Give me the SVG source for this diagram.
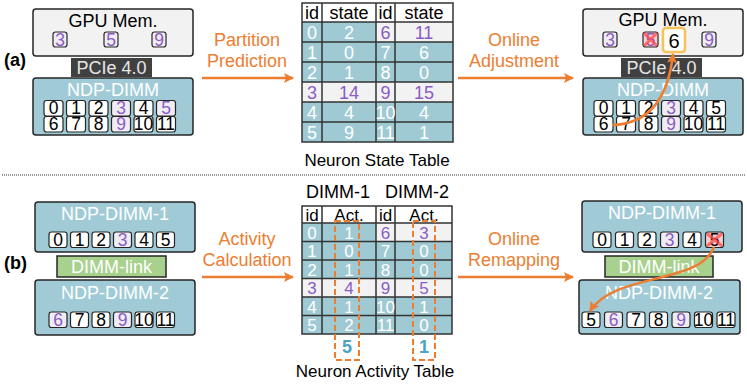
<svg xmlns="http://www.w3.org/2000/svg" width="747" height="385" viewBox="0 0 747 385">
<defs>
<style>
.t{font-family:"Liberation Sans",Arial,sans-serif}
.box{fill:#a0cbd6;stroke:#262626;stroke-width:1.5}
.gbox{fill:#f2f2f2;stroke:#262626;stroke-width:1.5}
.cell{fill:#fff;stroke:#262626;stroke-width:1.2}
.pcell{fill:#efedf3;stroke:#262626;stroke-width:1.2}
.xcell{fill:#f7cfd0;stroke:#262626;stroke-width:1.2}
.n{font-size:17.5px;text-anchor:middle;fill:#000}
.p{fill:#8b5cc4}
.w{fill:#fff}
.lbl{font-size:18px;text-anchor:middle}
.sm{font-size:17px}
.or{fill:#ed7d31}
.arr{stroke:#ed7d31;stroke-width:2.5;fill:none;marker-end:url(#ah)}
.tb{fill:#9fc9d3}
.tg{fill:#f2f2f2}
.th{fill:#fff}
.grid{stroke:#333;stroke-width:1.5;fill:none}
.xm{stroke:#ff4b4b;stroke-width:3;opacity:0.75}
.dash{fill:none;stroke:#ed7d31;stroke-width:2;stroke-dasharray:6,3}
</style>
<marker id="ah" viewBox="0 0 10 10" refX="9" refY="5" markerWidth="11" markerHeight="10" markerUnits="userSpaceOnUse" orient="auto">
<path d="M0,0 L10,5 L0,10 L2,5 Z" fill="#ed7d31"/>
</marker>
</defs>
<rect width="747" height="385" fill="#fff"/>

<text class="t" x="4" y="66" font-size="18" font-weight="bold">(a)</text>
<text class="t" x="4" y="269" font-size="18" font-weight="bold">(b)</text>

<!-- Top-left -->
<g id="gpu-mem-a">
<rect class="gbox" x="33" y="9" width="160" height="47" rx="3"/>
<text class="t lbl" x="113" y="27">GPU Mem.</text>
<rect class="pcell" x="53" y="32" width="14" height="15" rx="2.5"/><text class="t n p" x="60" y="45.5">3</text>
<rect class="pcell" x="104" y="32" width="14" height="15" rx="2.5"/><text class="t n p" x="111" y="45.5">5</text>
<rect class="pcell" x="152" y="32" width="14" height="15" rx="2.5"/><text class="t n p" x="159" y="45.5">9</text>
</g>
<g id="pcie-a">
<rect x="71" y="58" width="81" height="19" fill="#404040"/>
<text class="t lbl" x="111.5" y="74" fill="#e6e6e6">PCIe 4.0</text>
</g>
<g id="ndp-dimm-a">
<rect class="box" x="33" y="78" width="160" height="57" rx="3"/>
<text class="t lbl w" x="113" y="96">NDP-DIMM</text>
<rect class="cell" x="44" y="100.5" width="19" height="15.5" rx="2.5"/><text class="t n" x="53.5" y="114">0</text>
<rect class="cell" x="66.5" y="100.5" width="19" height="15.5" rx="2.5"/><text class="t n" x="76" y="114">1</text>
<rect class="cell" x="89" y="100.5" width="19" height="15.5" rx="2.5"/><text class="t n" x="98.5" y="114">2</text>
<rect class="pcell" x="111.5" y="100.5" width="19" height="15.5" rx="2.5"/><text class="t n p" x="121" y="114">3</text>
<rect class="cell" x="134" y="100.5" width="19" height="15.5" rx="2.5"/><text class="t n" x="143.5" y="114">4</text>
<rect class="pcell" x="156.5" y="100.5" width="19" height="15.5" rx="2.5"/><text class="t n p" x="166" y="114">5</text>
<rect class="cell" x="44" y="116.5" width="19" height="15.5" rx="2.5"/><text class="t n" x="53.5" y="130">6</text>
<rect class="cell" x="66.5" y="116.5" width="19" height="15.5" rx="2.5"/><text class="t n" x="76" y="130">7</text>
<rect class="cell" x="89" y="116.5" width="19" height="15.5" rx="2.5"/><text class="t n" x="98.5" y="130">8</text>
<rect class="pcell" x="111.5" y="116.5" width="19" height="15.5" rx="2.5"/><text class="t n p" x="121" y="130">9</text>
<rect class="cell" x="134" y="116.5" width="19" height="15.5" rx="2.5"/><text class="t n" x="143.5" y="130">10</text>
<rect class="cell" x="156.5" y="116.5" width="19" height="15.5" rx="2.5"/><text class="t n" x="166" y="130">11</text>
</g>

<!-- Neuron State Table -->
<g id="state-table">
<rect class="th" x="302" y="3" width="151" height="19"/>
<rect class="tb" x="302" y="22" width="74" height="20"/><rect class="tg" x="376" y="22" width="77" height="20"/>
<rect class="tb" x="302" y="42" width="151" height="40"/>
<rect class="tg" x="302" y="82" width="151" height="20"/>
<rect class="tb" x="302" y="102" width="151" height="40"/>
<path class="grid" d="M302,3H453V142H302Z M302,22H453 M302,42H453 M302,62H453 M302,82H453 M302,102H453 M302,122H453 M322,3V142 M376,3V142 M395,3V142"/>
<g class="t lbl">
<text x="312" y="19">id</text><text x="349" y="19">state</text><text x="385.5" y="19">id</text><text x="424" y="19">state</text>
<text class="w" x="312" y="38.5">0</text><text class="w" x="349" y="38.5">2</text><text class="p" x="385.5" y="38.5">6</text><text class="p" x="424" y="38.5">11</text>
<text class="w" x="312" y="58.5">1</text><text class="w" x="349" y="58.5">0</text><text class="w" x="385.5" y="58.5">7</text><text class="w" x="424" y="58.5">6</text>
<text class="w" x="312" y="78.5">2</text><text class="w" x="349" y="78.5">1</text><text class="w" x="385.5" y="78.5">8</text><text class="w" x="424" y="78.5">0</text>
<text class="p" x="312" y="98.5">3</text><text class="p" x="349" y="98.5">14</text><text class="p" x="385.5" y="98.5">9</text><text class="p" x="424" y="98.5">15</text>
<text class="w" x="312" y="118.5">4</text><text class="w" x="349" y="118.5">4</text><text class="w" x="385.5" y="118.5">10</text><text class="w" x="424" y="118.5">4</text>
<text class="w" x="312" y="138.5">5</text><text class="w" x="349" y="138.5">9</text><text class="w" x="385.5" y="138.5">11</text><text class="w" x="424" y="138.5">1</text>
</g>
<text class="t" x="377" y="166" font-size="17" text-anchor="middle">Neuron State Table</text>
</g>

<!-- Top-right -->
<g id="gpu-mem-a2">
<rect class="gbox" x="583" y="9" width="160" height="47" rx="3"/>
<text class="t lbl" x="663" y="26">GPU Mem.</text>
<rect class="pcell" x="603" y="32" width="14" height="15" rx="2.5"/><text class="t n p" x="610" y="45.5">3</text>
<rect class="xcell" x="643" y="32" width="15" height="15" rx="2.5"/><text class="t n p" x="650.5" y="45.5">5</text>
<path class="xm" d="M644,33L657,46M657,33L644,46"/>
<rect x="663" y="28" width="22" height="24" rx="3" fill="#fff" stroke="#f7c25a" stroke-width="2.5"/>
<text class="t" x="674" y="47.5" font-size="20" text-anchor="middle">6</text>
<rect class="pcell" x="702" y="32" width="14" height="15" rx="2.5"/><text class="t n p" x="709" y="45.5">9</text>
</g>
<g id="pcie-a2">
<rect x="621" y="58" width="81" height="19" fill="#404040"/>
<text class="t lbl" x="661.5" y="74" fill="#e6e6e6">PCIe 4.0</text>
</g>
<g id="ndp-dimm-a2">
<rect class="box" x="583" y="78" width="160" height="57" rx="3"/>
<text class="t lbl w" x="663" y="96">NDP-DIMM</text>
<rect class="cell" x="594" y="100.5" width="19" height="15.5" rx="2.5"/><text class="t n" x="603.5" y="114">0</text>
<rect class="cell" x="616.5" y="100.5" width="19" height="15.5" rx="2.5"/><text class="t n" x="626" y="114">1</text>
<rect class="cell" x="639" y="100.5" width="19" height="15.5" rx="2.5"/><text class="t n" x="648.5" y="114">2</text>
<rect class="pcell" x="661.5" y="100.5" width="19" height="15.5" rx="2.5"/><text class="t n p" x="671" y="114">3</text>
<rect class="cell" x="684" y="100.5" width="19" height="15.5" rx="2.5"/><text class="t n" x="693.5" y="114">4</text>
<rect class="cell" x="706.5" y="100.5" width="19" height="15.5" rx="2.5"/><text class="t n" x="716" y="114">5</text>
<rect class="cell" x="594" y="116.5" width="19" height="15.5" rx="2.5"/><text class="t n" x="603.5" y="130">6</text>
<rect class="cell" x="616.5" y="116.5" width="19" height="15.5" rx="2.5"/><text class="t n" x="626" y="130">7</text>
<rect class="cell" x="639" y="116.5" width="19" height="15.5" rx="2.5"/><text class="t n" x="648.5" y="130">8</text>
<rect class="pcell" x="661.5" y="116.5" width="19" height="15.5" rx="2.5"/><text class="t n p" x="671" y="130">9</text>
<rect class="cell" x="684" y="116.5" width="19" height="15.5" rx="2.5"/><text class="t n" x="693.5" y="130">10</text>
<rect class="cell" x="706.5" y="116.5" width="19" height="15.5" rx="2.5"/><text class="t n" x="716" y="130">11</text>
</g>

<line x1="2" y1="175" x2="745" y2="175" stroke="#333" stroke-width="1" stroke-dasharray="1,1"/>

<!-- Bottom-left -->
<g id="ndp-dimm-1-b">
<rect class="box" x="35" y="202" width="160" height="50" rx="3"/>
<text class="t lbl w" x="115" y="220">NDP-DIMM-1</text>
<rect class="cell" x="49" y="232" width="18" height="15.5" rx="2.5"/><text class="t n" x="58" y="245.5">0</text>
<rect class="cell" x="70.5" y="232" width="18" height="15.5" rx="2.5"/><text class="t n" x="79.5" y="245.5">1</text>
<rect class="cell" x="92" y="232" width="18" height="15.5" rx="2.5"/><text class="t n" x="101" y="245.5">2</text>
<rect class="pcell" x="113.5" y="232" width="18" height="15.5" rx="2.5"/><text class="t n p" x="122.5" y="245.5">3</text>
<rect class="cell" x="135" y="232" width="18" height="15.5" rx="2.5"/><text class="t n" x="144" y="245.5">4</text>
<rect class="cell" x="156.5" y="232" width="18" height="15.5" rx="2.5"/><text class="t n" x="165.5" y="245.5">5</text>
</g>
<g id="dimm-link-b">
<rect x="57" y="256" width="109" height="21" fill="#a9d18e" stroke="#262626" stroke-width="1.5"/>
<text class="t lbl w" x="111.5" y="273">DIMM-link</text>
</g>
<g id="ndp-dimm-2-b">
<rect class="box" x="35" y="280" width="160" height="55" rx="3"/>
<text class="t lbl w" x="115" y="299">NDP-DIMM-2</text>
<rect class="pcell" x="49" y="312" width="18" height="15.5" rx="2.5"/><text class="t n p" x="58" y="325.5">6</text>
<rect class="cell" x="70.5" y="312" width="18" height="15.5" rx="2.5"/><text class="t n" x="79.5" y="325.5">7</text>
<rect class="cell" x="92" y="312" width="18" height="15.5" rx="2.5"/><text class="t n" x="101" y="325.5">8</text>
<rect class="pcell" x="113.5" y="312" width="18" height="15.5" rx="2.5"/><text class="t n p" x="122.5" y="325.5">9</text>
<rect class="cell" x="135" y="312" width="18" height="15.5" rx="2.5"/><text class="t n" x="144" y="325.5">10</text>
<rect class="cell" x="156.5" y="312" width="18" height="15.5" rx="2.5"/><text class="t n" x="165.5" y="325.5">11</text>
</g>

<!-- Neuron Activity Table -->
<g id="activity-table">
<text class="t lbl" x="338" y="198">DIMM-1</text>
<text class="t lbl" x="417" y="198">DIMM-2</text>
<rect class="th" x="302" y="206" width="150" height="17"/>
<rect class="tb" x="302" y="223" width="74" height="18.5"/><rect class="tg" x="376" y="223" width="76" height="18.5"/>
<rect class="tb" x="302" y="241.5" width="150" height="37"/>
<rect class="tg" x="302" y="278.5" width="150" height="18.5"/>
<rect class="tb" x="302" y="297" width="150" height="37"/>
<path class="grid" d="M302,206H452V334H302Z M302,223H452 M302,241.5H452 M302,260H452 M302,278.5H452 M302,297H452 M302,315.5H452 M322,206V334 M376,206V334 M395,206V334"/>
<g class="t lbl sm">
<text x="312" y="220.5">id</text><text x="349" y="220.5">Act.</text><text x="385.5" y="220.5">id</text><text x="424" y="220.5">Act.</text>
<text class="w" x="312" y="238.5">0</text><text class="w" x="349" y="238.5">1</text><text class="p" x="385.5" y="238.5">6</text><text class="p" x="424" y="238.5">3</text>
<text class="w" x="312" y="257">1</text><text class="w" x="349" y="257">0</text><text class="w" x="385.5" y="257">7</text><text class="w" x="424" y="257">0</text>
<text class="w" x="312" y="275.5">2</text><text class="w" x="349" y="275.5">1</text><text class="w" x="385.5" y="275.5">8</text><text class="w" x="424" y="275.5">0</text>
<text class="p" x="312" y="294">3</text><text class="p" x="349" y="294">4</text><text class="p" x="385.5" y="294">9</text><text class="p" x="424" y="294">5</text>
<text class="w" x="312" y="312.5">4</text><text class="w" x="349" y="312.5">1</text><text class="w" x="385.5" y="312.5">10</text><text class="w" x="424" y="312.5">1</text>
<text class="w" x="312" y="331">5</text><text class="w" x="349" y="331">2</text><text class="w" x="385.5" y="331">11</text><text class="w" x="424" y="331">0</text>
</g>
<rect class="dash" x="335" y="221" width="24" height="139"/>
<rect class="dash" x="413" y="221" width="22" height="139"/>
<text class="t lbl" x="347" y="353" font-weight="bold" fill="#4ba3c3">5</text>
<text class="t lbl" x="424" y="353" font-weight="bold" fill="#4ba3c3">1</text>
<text class="t" x="375" y="377" font-size="17" text-anchor="middle">Neuron Activity Table</text>
</g>

<!-- Bottom-right -->
<g id="ndp-dimm-1-b2">
<rect class="box" x="582" y="201" width="160" height="51" rx="3"/>
<text class="t lbl w" x="662" y="219">NDP-DIMM-1</text>
<rect class="cell" x="593" y="232" width="18" height="15.5" rx="2.5"/><text class="t n" x="602" y="245.5">0</text>
<rect class="cell" x="615.5" y="232" width="18" height="15.5" rx="2.5"/><text class="t n" x="624.5" y="245.5">1</text>
<rect class="cell" x="638" y="232" width="18" height="15.5" rx="2.5"/><text class="t n" x="647" y="245.5">2</text>
<rect class="pcell" x="660.5" y="232" width="18" height="15.5" rx="2.5"/><text class="t n p" x="669.5" y="245.5">3</text>
<rect class="cell" x="683" y="232" width="18" height="15.5" rx="2.5"/><text class="t n" x="692" y="245.5">4</text>
<rect class="xcell" x="705.5" y="232" width="18" height="15.5" rx="2.5"/><text class="t n" x="714.5" y="245.5">5</text>
<path class="xm" d="M707,233.5L722,246M722,233.5L707,246"/>
</g>
<g id="dimm-link-b2">
<rect x="605" y="256" width="108" height="21" fill="#a9d18e" stroke="#262626" stroke-width="1.5"/>
<text class="t lbl w" x="659" y="273">DIMM-link</text>
</g>
<g id="ndp-dimm-2-b2">
<rect class="box" x="579" y="280" width="161" height="54" rx="3"/>
<text class="t lbl w" x="659" y="299">NDP-DIMM-2</text>
<rect class="cell" x="582" y="312" width="18" height="15.5" rx="2.5"/><text class="t n" x="591" y="325.5">5</text>
<rect class="pcell" x="604.5" y="312" width="18" height="15.5" rx="2.5"/><text class="t n p" x="613.5" y="325.5">6</text>
<rect class="cell" x="627" y="312" width="18" height="15.5" rx="2.5"/><text class="t n" x="636" y="325.5">7</text>
<rect class="cell" x="649.5" y="312" width="18" height="15.5" rx="2.5"/><text class="t n" x="658.5" y="325.5">8</text>
<rect class="pcell" x="672" y="312" width="18" height="15.5" rx="2.5"/><text class="t n p" x="681" y="325.5">9</text>
<rect class="cell" x="694.5" y="312" width="18" height="15.5" rx="2.5"/><text class="t n" x="703.5" y="325.5">10</text>
<rect class="cell" x="717" y="312" width="18" height="15.5" rx="2.5"/><text class="t n" x="726" y="325.5">11</text>
</g>

<!-- Connectors -->
<g id="connectors">
<text class="t lbl or" x="247" y="46">Partition</text>
<text class="t lbl or" x="247" y="67">Prediction</text>
<line class="arr" x1="202" y1="78" x2="293" y2="78"/>
<text class="t lbl or" x="514" y="46">Online</text>
<text class="t lbl or" x="514" y="67">Adjustment</text>
<line class="arr" x1="458" y1="78" x2="573" y2="78"/>
<text class="t lbl or" x="247" y="245">Activity</text>
<text class="t lbl or" x="247" y="266">Calculation</text>
<line class="arr" x1="202" y1="277" x2="293" y2="277"/>
<text class="t lbl or" x="514" y="245">Online</text>
<text class="t lbl or" x="514" y="266">Remapping</text>
<line class="arr" x1="458" y1="277" x2="573" y2="277"/>
<path class="arr" d="M612,125 C648,124 668,100 673,54"/>
<path class="arr" d="M714,247 C700,285 615,272 590,311"/>
</g>
</svg>
